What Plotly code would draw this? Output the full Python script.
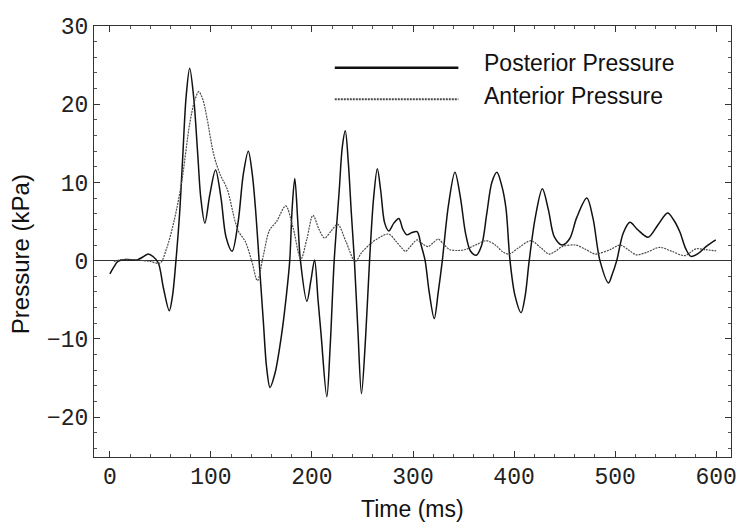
import plotly.graph_objects as go

# Posterior pressure (solid)
post_t = [0, 4, 8, 15, 27, 33, 38, 43, 48, 53, 58.8, 62, 65.4, 69, 72, 75.5, 79, 83, 87, 90, 94,
          99, 104.6, 110, 115, 121, 127, 132, 137, 141, 144.5, 147.7, 152, 155, 158.5, 163.4, 170,
          174.8, 178, 180.4, 183, 186, 188.6, 195, 199, 202.6, 206, 209, 214.7, 218, 222, 227, 230,
          233, 236, 239, 242, 245.5, 249, 253, 257, 261, 264.7, 268, 272, 276, 281, 286, 290, 294,
          299, 304, 308, 312, 316, 321, 325, 329, 335, 341.5, 347, 352, 357, 362.7, 368, 373, 378,
          383, 388, 392, 396, 401, 407, 411, 415, 421, 428, 434, 440, 447.7, 455, 462, 472, 478,
          485, 493.5, 497, 501.6, 508, 514.7, 522, 532.7, 542, 552, 558, 564, 570, 575, 582, 590,
          599.6]
post_p = [-1.7, -0.8, -0.1, 0.15, 0.1, 0.5, 0.85, 0.5, -0.3, -3.5, -6.4, -4.5, 0.0, 6.0, 13.0,
          21.0, 24.6, 20.8, 13.5, 8.0, 4.8,
          8.5, 11.6, 8.0, 3.0, 1.2, 5.0, 11.0, 14.0, 11.0, 6.0, 0.0, -8.0, -13.5, -16.2, -14.4, -9.4,
          -4.3, 0.0, 6.7, 10.5, 5.0, 0.0, -5.2, -2.5, 0.1, -5.0, -9.4, -17.4, -11.0, 0.0, 9.0, 14.5,
          16.6, 12.5, 6.0, 0.0, -9.0, -17.0, -10.0, 0.0, 8.0, 11.75, 9.0, 4.8, 3.8, 4.8, 5.4, 4.0, 3.3,
          3.6, 3.7, 2.0, 0.0, -4.0, -7.4, -4.0, 0.0, 7.0, 11.3, 8.0, 3.5, 1.2, 0.7, 2.0, 6.0, 10.0,
          11.3, 9.5, 6.7, 0.0, -4.5, -6.65, -4.5, 0.0, 5.5, 9.2, 6.5, 3.0, 2.0, 2.8, 5.5, 8.0, 5.5,
          0.0, -2.85, -1.8, 0.0, 3.5, 4.9, 4.0, 3.0, 4.5, 6.1, 5.2, 3.7, 1.5, 0.55, 0.9, 1.8,
          2.65]

# Anterior pressure (dotted)
ant_t = [4, 10, 20, 30, 40, 49.7, 56, 63.4, 71, 79, 84, 88, 92, 96, 103, 109.5, 116, 124, 127.5,
         134, 140.5, 146, 152, 158, 165, 174, 181.4, 189, 195, 201, 207, 212.5, 219, 225.5, 233.6,
         242.8, 249, 256.5, 266, 276, 283, 289, 292.5, 298, 304, 310, 315, 320, 325, 331, 336.6,
         344, 351, 362, 372.5, 382, 389, 395, 405, 416.7, 426, 434.6, 441, 447.7, 460.8, 470, 480,
         485, 495, 505, 513, 521, 532, 544, 556, 569, 580, 590, 600]
ant_p = [-0.1, 0.1, 0.15, 0.05, -0.1, -0.3, 1.5, 5.0, 10.0, 17.5, 20.5, 21.6, 20.6, 18.3, 13.45,
         10.9, 9.2, 5.0, 3.7, 2.45, -0.1, -2.55, 0.75, 3.9, 5.0, 7.0, 4.15, 0.2, 2.8, 5.8, 4.0, 2.9,
         3.8, 4.65, 2.45, -0.1, 1.0, 2.0, 2.9, 3.4, 2.5, 1.6, 1.2, 1.9, 2.65, 2.1, 1.8, 2.3, 2.75,
         2.0, 1.4, 1.3, 1.4, 2.0, 2.55, 1.95, 1.1, 0.85, 1.7, 2.55, 1.7, 0.85, 1.2, 1.8, 2.0, 1.5,
         0.85, 0.95, 1.4, 2.0, 1.4, 0.75, 1.1, 1.7, 1.2, 0.65, 1.5, 1.4, 1.25]

x_ticks = [0, 100, 200, 300, 400, 500, 600]
y_ticks = [-20, -10, 0, 10, 20, 30]
series_names = ["Posterior Pressure", "Anterior Pressure"]

fig = go.Figure()
fig.add_trace(go.Scatter(x=post_t, y=post_p, mode="lines", name=series_names[0],
                         line=dict(color="#111111", width=1.5, shape="spline", smoothing=0.9)))
fig.add_trace(go.Scatter(x=ant_t, y=ant_p, mode="lines", name=series_names[1],
                         line=dict(color="#4a4a4a", width=1.2, shape="spline", smoothing=0.9,
                                   dash="2px,1px")))

tickfont = dict(family="Liberation Mono, Courier New, monospace", size=23, color="#222222")
axis_common = dict(showline=True, linecolor="#333333", linewidth=1, mirror="ticks",
                   ticks="inside", ticklen=6, tickwidth=1, tickcolor="#333333",
                   showgrid=False, tickfont=tickfont)

fig.update_xaxes(range=[-15.7, 614.7], tickvals=x_ticks, zeroline=False, ticklabelstandoff=-2,
                 minor=dict(dtick=20, tick0=0, ticks="inside", ticklen=3, tickcolor="#555555",
                            showgrid=False),
                 **axis_common)
fig.update_yaxes(range=[-25.1, 30], tickvals=y_ticks, zeroline=True, zerolinecolor="#333333",
                 zerolinewidth=1,
                 minor=dict(dtick=2, tick0=0, ticks="inside", ticklen=3, tickcolor="#555555",
                            showgrid=False),
                 **axis_common)

# Legend drawn as line samples and labels
legend_font = dict(family="Liberation Sans, Arial, sans-serif", size=23, color="#111111")
fig.add_shape(type="line", xref="paper", yref="paper", x0=0.378, x1=0.572, y0=0.903, y1=0.903,
              line=dict(color="#111111", width=2.5))
fig.add_shape(type="line", xref="paper", yref="paper", x0=0.378, x1=0.572, y0=0.830, y1=0.830,
              line=dict(color="#4a4a4a", width=2, dash="2px,1px"))
fig.add_annotation(xref="paper", yref="paper", x=0.6096, y=0.914, xanchor="left", yanchor="middle",
                   text=series_names[0], showarrow=False, font=legend_font)
fig.add_annotation(xref="paper", yref="paper", x=0.6096, y=0.837, xanchor="left", yanchor="middle",
                   text=series_names[1], showarrow=False, font=legend_font)

# Axis titles
title_font = dict(family="Liberation Sans, Arial, sans-serif", size=23, color="#111111")
fig.add_annotation(xref="paper", yref="paper", x=0.5, y=-0.087, xanchor="center", yanchor="top",
                   text="Time (ms)", showarrow=False, font=title_font)
fig.add_annotation(xref="paper", yref="paper", x=-0.115, y=0.47, xanchor="center",
                   yanchor="middle", text="Pressure (kPa)", showarrow=False, textangle=-90,
                   font=dict(family="Liberation Sans, Arial, sans-serif", size=24, color="#111111"))

# Page body has an 8px default margin; size and margins compensate so the plot area
# lands where the reference has it.
fig.update_layout(width=736, height=514, margin=dict(l=86, r=7, t=15, b=65),
                  plot_bgcolor="white", paper_bgcolor="white", showlegend=False)

fig.write_html("out.html")
